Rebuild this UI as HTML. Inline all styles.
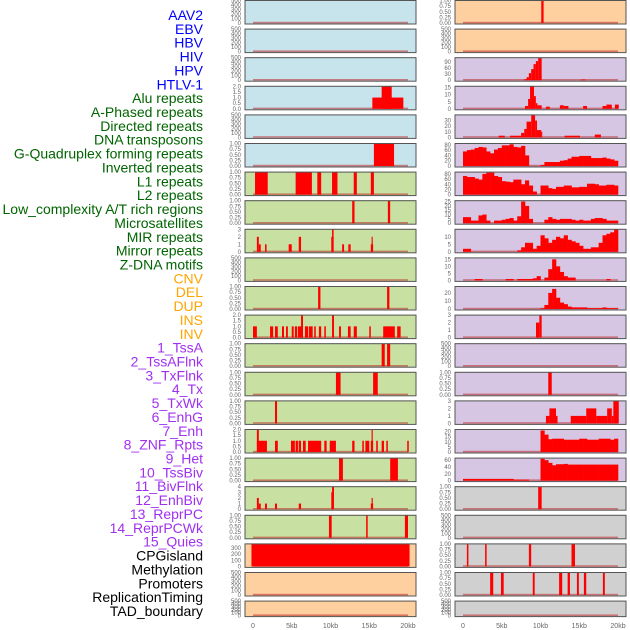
<!DOCTYPE html>
<html><head><meta charset="utf-8">
<style>
html,body{margin:0;padding:0;background:#fff;}
svg{display:block;font-family:"Liberation Sans",sans-serif;}
</style></head>
<body>
<svg id="chart" width="630" height="630" viewBox="0 0 630 630" xmlns="http://www.w3.org/2000/svg">
<g id="labels"></g>
<g id="panels"></g>
<g id="xaxes"></g>
</svg>
<script>
// ---------- data ----------
const featureLabels = ["AAV2","EBV","HBV","HIV","HPV","HTLV-1","Alu repeats","A-Phased repeats","Directed repeats","DNA transposons","G-Quadruplex forming repeats","Inverted repeats","L1 repeats","L2 repeats","Low_complexity A/T rich regions","Microsatellites","MIR repeats","Mirror repeats","Z-DNA motifs","CNV","DEL","DUP","INS","INV","1_TssA","2_TssAFlnk","3_TxFlnk","4_Tx","5_TxWk","6_EnhG","7_Enh","8_ZNF_Rpts","9_Het","10_TssBiv","11_BivFlnk","12_EnhBiv","13_ReprPC","14_ReprPCWk","15_Quies","CPGisland","Methylation","Promoters","ReplicationTiming","TAD_boundary"];
const labelGroups = [6,13,5,15,5];
const xTickKb = [0,5,10,15,20];
const xTickLabels = ["0","5kb","10kb","15kb","20kb"];

const T500 = ["0","100","200","300","400","500"];
const T1 = ["0.00","0.25","0.50","0.75","1.00"];
const T2 = ["0.0","0.5","1.0","1.5","2.0"];
const T3 = ["0","1","2","3"];
const T4 = ["0","1","2","3","4"];
const T300 = ["0","100","200","300"];
const T90 = ["0","30","60","90"];
const T15 = ["0","5","10","15"];
const T30 = ["0","10","20","30"];
const T80 = ["0","20","40","60","80"];
const T25 = ["0","5","10","15","20","25"];
const T10 = ["0","5","10"];
const T20 = ["0","10","20"];
const T20b = ["0","5","10","15","20"];
const T60 = ["0","20","40","60"];

// left column segments [startKb, endKb, value]
const leftAlu = [[15.4,19.4,1],[16.6,17.9,2]];
const leftGquad = [[15.6,18.2,1]];
const leftL1 = [[0.26,1.9,1],[5.5,7.6,1],[8.3,8.8,1],[10.2,10.9,1],[13.0,13.4,1],[15.2,15.6,1]];
const leftLowc = [[12.8,13.1,1],[17.4,17.7,1]];
const leftMir = [[0.5,0.75,2],[0.75,1.0,1],[1.55,1.75,1],[4.6,5.0,1],[5.9,6.2,2],[10.1,10.4,2],[10.2,10.4,3],[11.5,11.75,1],[12.3,12.6,1],[15.2,15.5,1],[15.3,15.45,2]];
const leftDel = [[8.4,8.7,1],[17.3,17.6,1]];
const leftIns = [[0,0.5,1],[2.2,2.6,1],[2.84,3.2,1],[3.74,4.0,1],[4.26,4.5,1],[5.0,5.25,1],[5.4,5.7,1],[5.8,6.45,1],[6.2,6.45,2],[6.7,7.1,1],[7.2,7.7,1],[7.9,8.1,1],[8.5,8.8,1],[9.2,9.4,1],[10.2,10.45,2],[11.1,11.35,1],[12.25,12.6,1],[13.0,13.4,1],[15.0,15.2,1],[16.8,18.3,1],[18.6,19.05,1]];
const leftTssA = [[16.6,17.0,1],[17.3,17.7,1]];
const leftTxFlnk = [[10.7,11.3,1],[15.5,16.1,1]];
const leftTxWk = [[2.84,3.1,1]];
const leftEnh = [[0.5,1.8,1],[0.5,0.75,2],[2.84,3.2,1],[4.9,5.4,1],[5.5,5.8,1],[5.9,6.2,1],[6.45,6.8,1],[7.1,8.8,1],[9.2,9.5,1],[9.9,10.7,1],[12.8,13.1,1],[14.1,14.3,1],[14.5,15.0,1],[15.2,15.5,1],[15.3,15.45,2],[15.9,16.1,1],[16.6,16.9,1],[17.2,17.4,1],[19.9,20.1,1]];
const leftHet = [[11.1,11.6,1],[17.7,18.7,1]];
const leftBiv = [[0.5,0.75,2],[0.75,1.0,1],[1.55,1.8,1],[2.84,3.1,1],[5.9,6.2,1],[10.1,10.35,3],[10.2,10.45,4],[15.2,15.5,1],[15.3,15.45,2]];
const leftRepr = [[9.8,10.15,1],[14.6,14.8,1],[19.6,20.0,1]];
const leftCpg = [[-0.2,20.2,370]];

// right column segments
const rightAav = [[10.1,10.4,1]];
const rightHiv = [[7.9,8.2,5],[8.2,8.5,15],[8.5,8.8,35],[8.8,9.1,55],[9.1,9.4,80],[9.4,9.7,95],[9.7,10.15,110],[15.2,15.8,3]];
const rightAlu = [[8.0,8.4,2],[8.4,8.65,7],[8.65,9.16,16],[9.16,9.4,9],[9.4,9.6,4],[9.6,10.15,2.5],[10.7,11.2,1.5],[12.5,13.0,2.5],[13.0,13.6,2],[15.5,16.0,2],[18.0,18.5,2],[18.5,19.2,3],[19.6,20.1,3]];
const rightDirected = [[4.6,5.4,3],[6.06,7.5,3],[7.5,7.9,8],[7.9,8.2,15],[8.2,8.8,28],[8.8,9.3,40],[9.3,9.55,30],[9.55,10.1,13],[10.1,10.2,10],[13.1,15.1,3],[17.0,17.8,5]];
const rightInv = [[9.42,9.85,2],[9.85,10.15,3]];
const rightTx = [[11.0,11.45,1]];
const rightTxWk = [[10.7,11.15,1],[11.15,12.0,2],[12.0,12.2,1],[13.9,15.9,1],[15.9,17.2,2],[17.2,18.6,1],[18.6,19.2,2],[19.2,19.4,1],[19.4,20.1,3]];
const rightBivFl = [[9.7,10.15,1]];
const rightCpgIsl = [[0.5,0.7,1],[2.85,3.05,1],[8.5,8.8,1],[14.0,14.45,1]];
const rightProm = [[3.5,3.9,1],[4.9,5.25,1],[9.0,9.25,1],[12.4,12.8,1],[13.5,13.8,1],[14.7,14.95,1],[15.6,15.9,1],[18.05,18.3,1]];

// right column histograms (0.5kb bins, 0..20kb)
const binKb = 0.5;
const histGquad = [55,60,62,68,72,70,55,48,62,68,78,78,82,72,70,76,40,0,0,0,4,15,15,15,15,20,22,28,35,35,38,38,38,30,30,30,32,28,25,20];
const histL1 = [72,68,68,62,58,80,85,85,72,68,52,50,48,58,58,40,55,35,12,0,35,35,25,22,30,30,35,35,28,28,30,30,42,42,40,35,35,38,38,35];
const histLowc = [7,7,3,3,9,10,3,0,3,3,4,5,6,3,8,25,20,5,0,0,0,4,7,5,4,5,5,5,4,3,4,3,3,5,6,6,5,3,3,3];
const histMir = [2,2,0,0,0,0,0,0,0,0,0,0,0,0,1,3,6,6,2,4,11,9,6,8,10,9,11,8,7,6,4,2,2,3,3,6,11,12,13,15];
const histMirror = [0,0,0,1,1,0,0,0,0,0,0,1,1,0,1,1,1,1,1.5,3,0,2,8,15,10,6,3,2,2,0,0,0,0,0,0,0,0,1,0,0];
const histZdna = [0,0,0,0,0,0,0,0,0,0,0,0,0,0,0,0,0,0,0,0,1,5,20,25,14,8,6,3,2,2,2,2,1,1,1,1,2,1,1,1];
const histZnf = [0,0,0,0,0,0,0,0,0,0,0,0,0,0,0,0,0,0,0,0,21,17,12.5,13,13,13,12,12,12,12,13,13,12,12,12,13,13,13,12,13];
const histHet = [5,5,5,5,5,5,5,5,5,5,5,5,5,3,3,3,3,0,0,0,64,60,52,45,48,48,49,47,47,47,47,47,47,47,47,47,47,47,47,47];

// ---------- layout ----------
const BLUE="#c7e3eb", PEACH="#ffd09f", LAV="#d6c6e3", GREEN="#c8e1a2", GRAY="#d0d0d0";
const cols = [{x0:245,x1:416,k0:253,k1:408,tx:241},{x0:455,x1:626,k0:463,k1:618,tx:451}];
const rowStep = 28.6, rowH = 24;
const panels = [
 // left column
 [0,0,BLUE,T500,500,null,null],[0,1,BLUE,T500,500,null,null],[0,2,BLUE,T500,500,null,null],
 [0,3,BLUE,T2,2,leftAlu,null],[0,4,BLUE,T500,500,null,null],[0,5,BLUE,T1,1,leftGquad,null],
 [0,6,GREEN,T1,1,leftL1,null],[0,7,GREEN,T1,1,leftLowc,null],[0,8,GREEN,T3,3,leftMir,null],
 [0,9,GREEN,T500,500,null,null],[0,10,GREEN,T1,1,leftDel,null],[0,11,GREEN,T2,2,leftIns,null],
 [0,12,GREEN,T1,1,leftTssA,null],[0,13,GREEN,T1,1,leftTxFlnk,null],[0,14,GREEN,T1,1,leftTxWk,null],
 [0,15,GREEN,T2,2,leftEnh,null],[0,16,GREEN,T1,1,leftHet,null],[0,17,GREEN,T4,4,leftBiv,null],
 [0,18,GREEN,T1,1,leftRepr,null],[0,19,PEACH,T300,370,leftCpg,null],[0,20,PEACH,T500,500,null,null],
 [0,21,PEACH,T500,500,null,null],
 // right column
 [1,0,PEACH,T1,1,rightAav,null],[1,1,PEACH,T500,500,null,null],[1,2,LAV,T90,112,rightHiv,null],
 [1,3,LAV,T15,16,rightAlu,null],[1,4,LAV,T30,40,rightDirected,null],[1,5,LAV,T80,85,null,histGquad],
 [1,6,LAV,T80,87,null,histL1],[1,7,LAV,T25,26,null,histLowc],[1,8,LAV,T10,15,null,histMir],
 [1,9,LAV,T15,16,null,histMirror],[1,10,LAV,T20,28,null,histZdna],[1,11,LAV,T3,3,rightInv,null],
 [1,12,LAV,T500,500,null,null],[1,13,LAV,T1,1,rightTx,null],[1,14,LAV,T3,3,rightTxWk,null],
 [1,15,LAV,T20b,22,null,histZnf],[1,16,LAV,T60,66,null,histHet],[1,17,GRAY,T1,1,rightBivFl,null],
 [1,18,GRAY,T500,500,null,null],[1,19,GRAY,T1,1,rightCpgIsl,null],[1,20,GRAY,T1,1,rightProm,null],
 [1,21,GRAY,T500,500,null,null]
];

const NS="http://www.w3.org/2000/svg";
function mk(tag, attrs, parent){const e=document.createElementNS(NS,tag);for(const k in attrs)e.setAttribute(k,attrs[k]);parent.appendChild(e);return e;}

// labels
const labelColors=["#0000ff","#006400","#ffa500","#a030f0","#000000"];
const gL=document.getElementById('labels');
let gi=0, cnt=0;
featureLabels.forEach((t,i)=>{
  if(cnt>=labelGroups[gi]){gi++;cnt=0;}
  cnt++;
  const e=mk('text',{x:203,y:20+i*13.86,'text-anchor':'end','font-size':'14',fill:labelColors[gi]},gL);
  
  
  e.textContent=t;
});

// panels
const gP=document.getElementById('panels');
panels.forEach(p=>{
  const [ci,ri,color,ticks,ymax,segs,hist]=p;
  const c=cols[ci];
  const top=ri*rowStep;
  const h = ri===21?16:rowH;
  const bot=top+h;
  const xs=kb=>c.k0+(kb)*(c.k1-c.k0)/20;
  const ys=v=>(bot-1)-v*(h-1.5)/ymax;
  const g=mk('g',{},gP);
  
  
  const bg=mk('rect',{x:c.x0,y:top,width:c.x1-c.x0,height:h,fill:color},g);
  
  
  // baseline
  const bl=mk('rect',{x:xs(0),y:bot-2.2,width:xs(20)-xs(0),height:1.6,fill:"rgba(190,40,40,0.55)"},g);
  
  
  if(segs){segs.forEach(s=>{
    const x0=Math.max(xs(s[0]),c.x0+0.5), x1=Math.min(xs(s[1]),c.x1-0.5);
    const r=mk('rect',{x:x0,y:ys(s[2]),width:Math.max(x1-x0,1),height:ys(0)-ys(s[2]),fill:"#ff0000"},g);
    
    
  });}
  if(hist){hist.forEach((v,i)=>{
    if(v<=0)return;
    const x0=xs(i*binKb), x1=xs((i+1)*binKb);
    const r=mk('rect',{x:x0,y:ys(v),width:x1-x0+0.3,height:ys(0)-ys(v),fill:"#ff0000"},g);
    
    
  });}
  const fr=mk('rect',{x:c.x0,y:top+0.5,width:c.x1-c.x0,height:h-0.5,fill:"none",stroke:"#555",'stroke-width':1},g);
  
  
  ticks.forEach(t=>{
    const v=parseFloat(t);
    const e=mk('text',{x:c.tx,y:Math.min(ys(v)+2,bot+2),'text-anchor':'end','font-size':'6',fill:"#666"},g);
    
    
    e.textContent=t;
  });
});

// x axes
const gX=document.getElementById('xaxes');
cols.forEach(c=>{
  xTickKb.forEach((k,i)=>{
    const e=mk('text',{x:c.k0+k*(c.k1-c.k0)/20,y:628,'text-anchor':'middle','font-size':'7',fill:"#666"},gX);
    
    
    e.textContent=xTickLabels[i];
  });
});
</script>
</body></html>
